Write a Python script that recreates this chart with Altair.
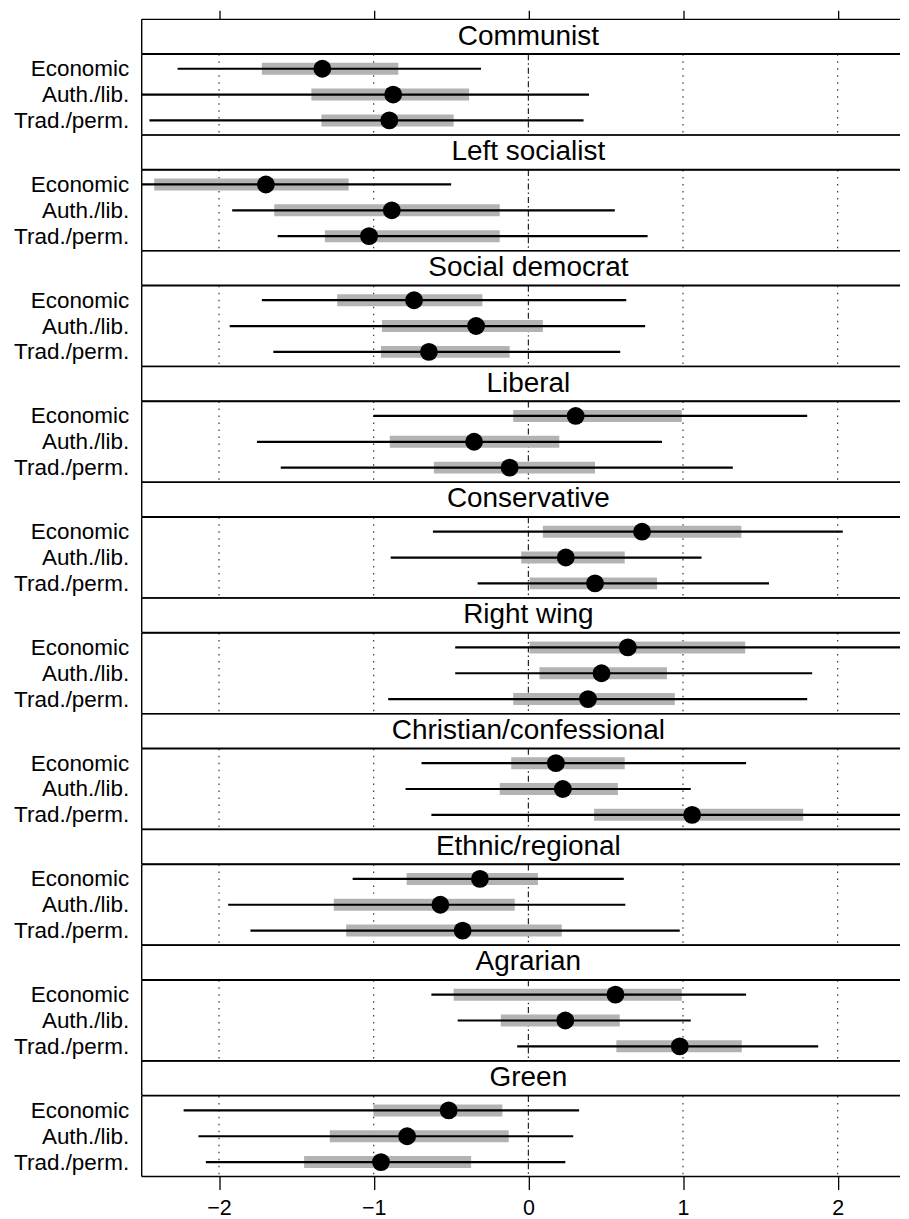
import altair as alt
import pandas as pd

FONT = "Liberation Sans"

parties = ["Communist", "Left socialist", "Social democrat", "Liberal", "Conservative",
           "Right wing", "Christian/confessional", "Ethnic/regional", "Agrarian", "Green"]
dims = ["Economic", "Auth./lib.", "Trad./perm."]

# point estimates (party-major, three dimensions each)
est = [-1.332, -0.874, -0.899,
       -1.697, -0.883, -1.030,
       -0.739, -0.338, -0.643,
       0.306, -0.351, -0.121,
       0.735, 0.242, 0.431,
       0.643, 0.473, 0.386,
       0.178, 0.223, 1.059,
       -0.313, -0.569, -0.425,
       0.563, 0.239, 0.979,
       -0.515, -0.784, -0.953]
# wide interval (thin black line)
lo95 = [-2.268, -2.6, -2.450,
        -2.6, -1.915, -1.621,
        -1.723, -1.931, -1.649,
        -1.002, -1.755, -1.601,
        -0.617, -0.890, -0.328,
        -0.473, -0.473, -0.906,
        -0.691, -0.794, -0.627,
        -1.136, -1.941, -1.797,
        -0.627, -0.457, -0.072,
        -2.229, -2.133, -2.085]
hi95 = [-0.306, 0.392, 0.357,
        -0.499, 0.559, 0.771,
        0.633, 0.755, 0.594,
        1.803, 0.864, 1.322,
        2.033, 1.120, 1.556,
        2.6, 1.835, 1.803,
        1.408, 1.050, 2.6,
        0.617, 0.627, 0.979,
        1.408, 1.050, 1.874,
        0.328, 0.290, 0.239]
# narrow interval (thick grey bar)
lo50 = [-1.723, -1.403, -1.338,
        -2.419, -1.643, -1.316,
        -1.236, -0.947, -0.953,
        -0.098, -0.896, -0.611,
        0.094, -0.046, 0.008,
        0.008, 0.072, -0.098,
        -0.111, -0.185, 0.425,
        -0.787, -1.258, -1.178,
        -0.483, -0.178, 0.569,
        -1.002, -1.284, -1.450]
hi50 = [-0.841, -0.383, -0.483,
        -1.162, -0.185, -0.185,
        -0.297, 0.094, -0.121,
        0.992, 0.200, 0.431,
        1.377, 0.623, 0.832,
        1.402, 0.896, 0.947,
        0.623, 0.579, 1.777,
        0.062, -0.088, 0.216,
        0.992, 0.591, 1.380,
        -0.168, -0.127, -0.370]

dotted_grid = [-2, -1, 1, 2]
zero_line = [0]
tick_values = [-2, -1, 0, 1, 2]
x_domain = [-2.5, 2.403]   # right edge of the panels falls at the window's edge

df = pd.DataFrame({
    "party": [p for p in parties for _ in dims],
    "dim": dims * len(parties),
    "est": est, "lo95": lo95, "hi95": hi95, "lo50": lo50, "hi50": hi50,
})

W = 760
STRIP_H = 34.5
DATA_H = 80.8
EXTENT = 128
BORDER = 1.4

XS = alt.Scale(domain=x_domain, nice=False, zero=False)

top_axis = alt.Axis(orient="top", values=tick_values, labels=False, ticks=True, tickSize=9,
                    tickWidth=1.3, tickColor="black", domain=False, grid=False, title=None,
                    minExtent=0, maxExtent=9)
bottom_axis = alt.Axis(orient="bottom", values=tick_values, labels=True, ticks=True, tickSize=13,
                       tickWidth=1.3, tickColor="black", domain=False, grid=False, title=None,
                       labelFontSize=21.5, labelFont=FONT, labelColor="black", labelPadding=8)


def frame(h):
    """left, top and bottom edges of a panel (the right edge lies outside the window)."""
    one = pd.DataFrame({"k": [0]})
    left = alt.Chart(one).mark_rule(color="black", strokeWidth=BORDER).encode(x=alt.value(0))
    top = alt.Chart(one).mark_rule(color="black", strokeWidth=BORDER).encode(y=alt.value(0))
    bot = alt.Chart(one).mark_rule(color="black", strokeWidth=BORDER).encode(y=alt.value(h))
    return [left, top, bot]


panels = []
for i, p in enumerate(parties):
    sdf = pd.DataFrame({"party": [p]})
    strip_text = alt.Chart(sdf).mark_text(fontSize=28, font=FONT, color="black", baseline="middle").encode(
        x=alt.X(datum=0, scale=XS, axis=top_axis if i == 0 else None),
        text="party:N",
    )
    strip = alt.layer(strip_text, *frame(STRIP_H)).properties(width=W, height=STRIP_H)

    pdf = df[df["party"] == p]
    last = i == len(parties) - 1
    yenc = alt.Y("dim:N", sort=dims, scale=alt.Scale(type="point", padding=0.56),
                 axis=alt.Axis(title=None, ticks=False, domain=False, labelFontSize=22.5,
                               labelFont=FONT, labelColor="black", labelPadding=13,
                               minExtent=EXTENT, maxExtent=EXTENT))
    xaxis = bottom_axis if last else None

    grid = alt.Chart(pd.DataFrame({"g": dotted_grid})).mark_rule(
        strokeDash=[1.5, 5.5], color="#222222", strokeWidth=1.1).encode(
        x=alt.X("g:Q", scale=XS, axis=xaxis))
    zero = alt.Chart(pd.DataFrame({"g": zero_line})).mark_rule(
        strokeDash=[6, 3, 1.5, 3], color="#111111", strokeWidth=1.1).encode(
        x=alt.X("g:Q", scale=XS, axis=xaxis))
    base = alt.Chart(pdf)
    grey = base.mark_rule(color="#b3b3b3", strokeWidth=12, strokeCap="butt", clip=True).encode(
        x=alt.X("lo50:Q", scale=XS, axis=xaxis), x2="hi50:Q", y=yenc)
    black = base.mark_rule(color="black", strokeWidth=2.2, strokeCap="butt", clip=True).encode(
        x=alt.X("lo95:Q", scale=XS, axis=xaxis), x2="hi95:Q", y=yenc)
    dots = base.mark_circle(color="black", opacity=1, size=320).encode(
        x=alt.X("est:Q", scale=XS, axis=xaxis), y=yenc)
    data = alt.layer(grid, zero, grey, black, dots, *frame(DATA_H)).properties(width=W, height=DATA_H)
    panels.extend([strip, data])

chart = alt.vconcat(*panels, spacing=0, bounds="flush").properties(
    padding={"left": 5, "top": 0, "right": 0, "bottom": 0}
).configure_view(stroke=None).configure_concat(spacing=0)

chart.save("out.html", embed_options={"renderer": "svg", "actions": False})
